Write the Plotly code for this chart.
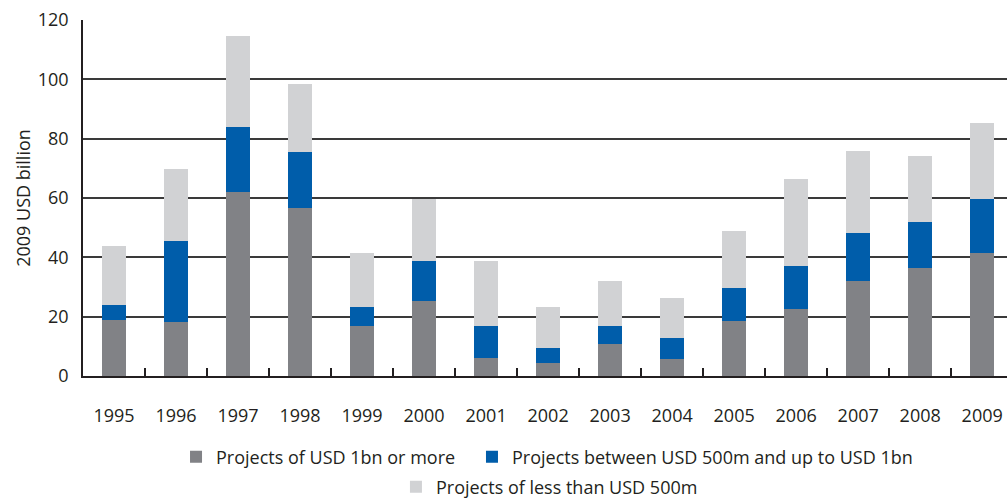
import plotly.graph_objects as go

years = ["1995", "1996", "1997", "1998", "1999", "2000", "2001", "2002",
         "2003", "2004", "2005", "2006", "2007", "2008", "2009"]
# cumulative readings split into stacked parts
large = [18.8, 18.1, 62.0, 56.5, 17.0, 25.2, 6.0, 4.3, 10.7, 5.6, 18.4, 22.5, 31.9, 36.3, 41.4]
mid = [5.0, 27.3, 21.9, 19.0, 6.1, 13.5, 10.8, 5.0, 6.1, 7.1, 11.2, 14.5, 16.2, 15.5, 18.2]
small = [20.0, 24.3, 30.7, 22.9, 18.2, 21.0, 21.9, 13.8, 15.1, 13.5, 19.2, 29.4, 27.7, 22.3, 25.7]

names = ["Projects of USD 1bn or more",
         "Projects between USD 500m and up to USD 1bn",
         "Projects of less than USD 500m"]
colors = ["#818286", "#005DAA", "#D1D2D4"]
FONT = "Open Sans, Arial, sans-serif"

fig = go.Figure()
for vals, name, col, leg in zip([large, mid, small], names, colors,
                                ["legend", "legend2", "legend3"]):
    fig.add_trace(go.Bar(x=years, y=vals, name=name, marker_color=col,
                         marker_line_width=0, legend=leg, showlegend=True))

leg = dict(orientation="h", xanchor="left", yanchor="middle",
           xref="container", yref="container",
           font=dict(size=18), itemwidth=30, bgcolor="rgba(0,0,0,0)")
fig.update_layout(
    barmode="stack", bargap=0.613, showlegend=True,
    width=1007, height=500,
    margin=dict(l=83, r=0, t=20, b=124),
    plot_bgcolor="white", paper_bgcolor="white",
    font=dict(family=FONT, size=18, color="#231F20"),
    legend=dict(leg, x=0.1748, y=0.086),
    legend2=dict(leg, x=0.4687, y=0.086),
    legend3=dict(leg, x=0.3932, y=0.026),
)
fig.update_xaxes(
    type="category", range=[-0.5, 14.4], automargin=False,
    showline=True, linecolor="#231F20", linewidth=1.5,
    ticks="inside", tickson="boundaries", ticklen=8, tickcolor="#231F20",
    tickwidth=1.5, ticklabelstandoff=23, showgrid=False,
    tickfont=dict(size=18),
)
fig.update_yaxes(
    range=[0, 120], dtick=20, showline=True, linecolor="#231F20",
    linewidth=1.5, showgrid=True, gridcolor="#3a3a3a", gridwidth=1.5,
    zeroline=False, ticks="", ticklabelstandoff=9, automargin=False,
    tickfont=dict(size=18),
    title=dict(text="2009 USD billion", font=dict(size=18), standoff=2),
)

fig.write_html("out.html", config={"displayModeBar": False},
               post_script="document.body.style.margin='0';")
